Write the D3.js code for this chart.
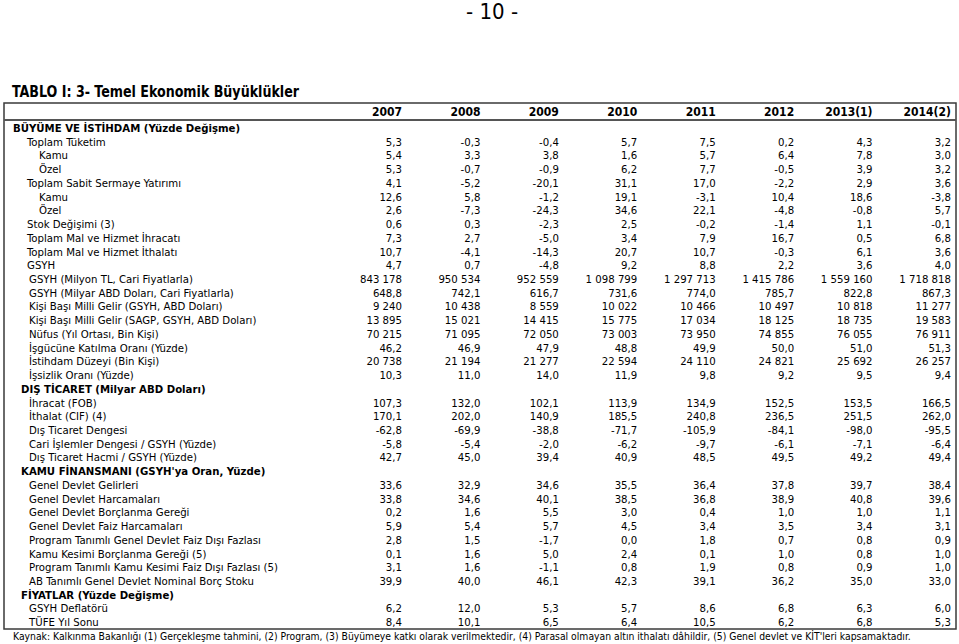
<!DOCTYPE html>
<meta charset="utf-8">

<style>
  body {
    margin: 0px;
    background: #fff;
  }

  svg {
    display: block;
  }

  text {
    font-family: "DejaVu Sans Condensed", "DejaVu Sans", sans-serif;
    fill: #000;
  }

  .cell {
    font-size: 11.3px;
  }

  .bold {
    font-weight: bold;
  }
</style>

<script src="https://d3js.org/d3.v7.min.js"></script>

<body>
  <svg class="table"></svg>
</body>

<script>
const width = 959;
const height = 644;

const years = ['2007', '2008', '2009', '2010', '2011', '2012', '2013(1)', '2014(2)'];

// level 0 = section heading, 1 = item, 2 = sub item
const labels = [
  'BÜYÜME VE İSTİHDAM (Yüzde Değişme)',
  'Toplam Tüketim', 'Kamu', 'Özel',
  'Toplam Sabit Sermaye Yatırımı', 'Kamu', 'Özel',
  'Stok Değişimi (3)',
  'Toplam Mal ve Hizmet İhracatı',
  'Toplam Mal ve Hizmet İthalatı',
  'GSYH',
  'GSYH (Milyon TL, Cari Fiyatlarla)',
  'GSYH (Milyar ABD Doları, Cari Fiyatlarla)',
  'Kişi Başı Milli Gelir (GSYH, ABD Doları)',
  'Kişi Başı Milli Gelir (SAGP, GSYH, ABD Doları)',
  'Nüfus (Yıl Ortası, Bin Kişi)',
  'İşgücüne Katılma Oranı (Yüzde)',
  'İstihdam Düzeyi (Bin Kişi)',
  'İşsizlik Oranı (Yüzde)',
  'DIŞ TİCARET (Milyar ABD Doları)',
  'İhracat (FOB)',
  'İthalat (CIF) (4)',
  'Dış Ticaret Dengesi',
  'Cari İşlemler Dengesi / GSYH (Yüzde)',
  'Dış Ticaret Hacmi / GSYH (Yüzde)',
  'KAMU FİNANSMANI (GSYH\'ya Oran, Yüzde)',
  'Genel Devlet Gelirleri',
  'Genel Devlet Harcamaları',
  'Genel Devlet Borçlanma Gereği',
  'Genel Devlet Faiz Harcamaları',
  'Program Tanımlı Genel Devlet Faiz Dışı Fazlası',
  'Kamu Kesimi Borçlanma Gereği (5)',
  'Program Tanımlı Kamu Kesimi Faiz Dışı Fazlası (5)',
  'AB Tanımlı Genel Devlet Nominal Borç Stoku',
  'FİYATLAR (Yüzde Değişme)',
  'GSYH Deflatörü',
  'TÜFE Yıl Sonu'
];

const levels = [
  0, 1, 2, 2, 1, 2, 2, 1, 1, 1, 1,
  1, 1, 1, 1, 1, 1, 1, 1,
  0, 1, 1, 1, 1, 1,
  0, 1, 1, 1, 1, 1, 1, 1, 1,
  0, 1, 1
];

// integer rows are printed without decimals
const integerRows = [11, 13, 14, 15, 17];

const growth = [
  null,
  [5.3, -0.3, -0.4, 5.7, 7.5, 0.2, 4.3, 3.2],
  [5.4, 3.3, 3.8, 1.6, 5.7, 6.4, 7.8, 3.0],
  [5.3, -0.7, -0.9, 6.2, 7.7, -0.5, 3.9, 3.2],
  [4.1, -5.2, -20.1, 31.1, 17.0, -2.2, 2.9, 3.6],
  [12.6, 5.8, -1.2, 19.1, -3.1, 10.4, 18.6, -3.8],
  [2.6, -7.3, -24.3, 34.6, 22.1, -4.8, -0.8, 5.7],
  [0.6, 0.3, -2.3, 2.5, -0.2, -1.4, 1.1, -0.1],
  [7.3, 2.7, -5.0, 3.4, 7.9, 16.7, 0.5, 6.8],
  [10.7, -4.1, -14.3, 20.7, 10.7, -0.3, 6.1, 3.6],
  [4.7, 0.7, -4.8, 9.2, 8.8, 2.2, 3.6, 4.0],
  [843178, 950534, 952559, 1098799, 1297713, 1415786, 1559160, 1718818],
  [648.8, 742.1, 616.7, 731.6, 774.0, 785.7, 822.8, 867.3],
  [9240, 10438, 8559, 10022, 10466, 10497, 10818, 11277],
  [13895, 15021, 14415, 15775, 17034, 18125, 18735, 19583],
  [70215, 71095, 72050, 73003, 73950, 74855, 76055, 76911],
  [46.2, 46.9, 47.9, 48.8, 49.9, 50.0, 51.0, 51.3],
  [20738, 21194, 21277, 22594, 24110, 24821, 25692, 26257],
  [10.3, 11.0, 14.0, 11.9, 9.8, 9.2, 9.5, 9.4]
];

const trade = [
  null,
  [107.3, 132.0, 102.1, 113.9, 134.9, 152.5, 153.5, 166.5],
  [170.1, 202.0, 140.9, 185.5, 240.8, 236.5, 251.5, 262.0],
  [-62.8, -69.9, -38.8, -71.7, -105.9, -84.1, -98.0, -95.5],
  [-5.8, -5.4, -2.0, -6.2, -9.7, -6.1, -7.1, -6.4],
  [42.7, 45.0, 39.4, 40.9, 48.5, 49.5, 49.2, 49.4]
];

const finance = [
  null,
  [33.6, 32.9, 34.6, 35.5, 36.4, 37.8, 39.7, 38.4],
  [33.8, 34.6, 40.1, 38.5, 36.8, 38.9, 40.8, 39.6],
  [0.2, 1.6, 5.5, 3.0, 0.4, 1.0, 1.0, 1.1],
  [5.9, 5.4, 5.7, 4.5, 3.4, 3.5, 3.4, 3.1],
  [2.8, 1.5, -1.7, 0.0, 1.8, 0.7, 0.8, 0.9],
  [0.1, 1.6, 5.0, 2.4, 0.1, 1.0, 0.8, 1.0],
  [3.1, 1.6, -1.1, 0.8, 1.9, 0.8, 0.9, 1.0],
  [39.9, 40.0, 46.1, 42.3, 39.1, 36.2, 35.0, 33.0]
];

const prices = [
  null,
  [6.2, 12.0, 5.3, 5.7, 8.6, 6.8, 6.3, 6.0],
  [8.4, 10.1, 6.5, 6.4, 10.5, 6.2, 6.8, 5.3]
];

const pageNumber = '- 10 -';
const title = 'TABLO I: 3- Temel Ekonomik Büyüklükler';
const footnote = 'Kaynak: Kalkınma Bakanlığı (1) Gerçekleşme tahmini, (2) Program, (3) Büyümeye katkı olarak verilmektedir, (4) Parasal olmayan altın ithalatı dâhildir, (5) Genel devlet ve KİT\'leri kapsamaktadır.';

const values = growth.concat(trade, finance, prices);

const trLocale = d3.formatLocale({decimal: ',', thousands: ' ', grouping: [3], currency: ['', ''], minus: '-'});
const fmtDecimal = trLocale.format('.1f');
const fmtInteger = trLocale.format(',d');

const svg = d3.select('.table')
    .attr('width', width)
    .attr('height', height);

// table frame
const box = {left: 4, right: 956, top: 103, headerBottom: 121, bottom: 629};

const x = d3.scalePoint()
    .domain(years)
    .range([402, 951]);

const y = d3.scaleBand()
    .domain(d3.range(labels.length))
    .range([box.headerBottom, box.bottom]);

const indent = function(i) {
  const lvl = levels[i];
  if (lvl === 0) return i === 0 ? 13 : 21;
  if (lvl === 2) return 39;
  return i < 11 ? 27 : 29;
};

svg.append('text')
    .attr('x', 466)
    .attr('y', 19)
    .style('font-size', '22px')
    .text(pageNumber);

// the printed title is taller than its width suggests, so squeeze it a bit
svg.append('text')
    .attr('class', 'bold')
    .attr('x', 12)
    .attr('y', 97)
    .attr('textLength', 287)
    .attr('lengthAdjust', 'spacingAndGlyphs')
    .style('font-size', '16px')
    .text(title);

svg.append('rect')
    .attr('x', box.left)
    .attr('y', box.top)
    .attr('width', box.right - box.left)
    .attr('height', box.bottom - box.top)
    .attr('fill', 'none')
    .attr('stroke', '#3a3a3a')
    .attr('stroke-width', 1.5);

svg.append('line')
    .attr('x1', box.left)
    .attr('x2', box.right)
    .attr('y1', box.headerBottom - 1)
    .attr('y2', box.headerBottom - 1)
    .attr('stroke', '#555')
    .attr('stroke-width', 2);

svg.append('g')
  .selectAll('text')
    .data(years)
  .enter().append('text')
    .attr('class', 'cell bold')
    .attr('x', function(d) { return x(d); })
    .attr('y', (box.top + box.headerBottom) / 2)
    .attr('dy', '0.36em')
    .attr('text-anchor', 'end')
    .style('font-size', '12px')
    .text(function(d) { return d; });

const rows = svg.append('g')
  .selectAll('g')
    .data(labels)
  .enter().append('g')
    .attr('transform', function(d, i) { return `translate(0, ${y(i) + y.bandwidth() / 2})`; });

rows.append('text')
    .attr('class', function(d, i) { return levels[i] === 0 ? 'cell bold' : 'cell'; })
    .attr('x', function(d, i) { return indent(i); })
    .attr('dy', '0.36em')
    .text(function(d) { return d; });

rows.each(function(d, i) {
  if (!values[i]) return;
  const fmt = integerRows.indexOf(i) >= 0 ? fmtInteger : fmtDecimal;
  d3.select(this).selectAll('.num')
      .data(values[i])
    .enter().append('text')
      .attr('class', 'cell num')
      .attr('x', function(v, j) { return x(years[j]); })
      .attr('dy', '0.36em')
      .attr('text-anchor', 'end')
      .text(function(v) { return fmt(v); });
});

svg.append('text')
    .attr('x', 13)
    .attr('y', 636)
    .attr('dy', '0.36em')
    .style('font-size', '10.3px')
    .text(footnote);
</script>
